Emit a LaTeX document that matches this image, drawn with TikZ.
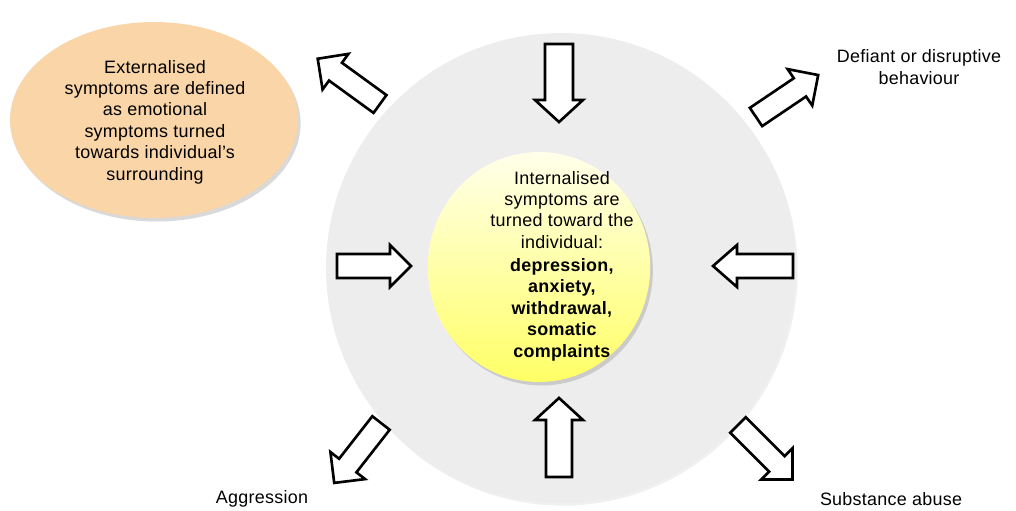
\documentclass[tikz,border=0pt]{standalone}
\usepackage{fontspec}
\setmainfont[LetterSpace=1.5]{Liberation Sans}
\usetikzlibrary{shapes.geometric,shadows}
\definecolor{ringgray}{HTML}{EDEDED}
\definecolor{peach}{HTML}{F9D5A8}
\newcommand\blkarr[6]{% tail point, angle, length, shaft half, head half, head length
  \draw[blockarrow, shift={#1}, rotate=#2]
    (0,-#4) -- ({#3-#6},-#4) -- ({#3-#6},-#5) -- (#3,0) -- ({#3-#6},#5)
    -- ({#3-#6},#4) -- (0,#4) -- cycle;}
\begin{document}
\begin{tikzpicture}[x=0.02cm,y=-0.02cm,
  txt/.style={font=\fontsize{10.2}{12.2}\selectfont, align=center, inner sep=0pt},
  blockarrow/.style={draw=black, line width=1.5pt, fill=white, line join=miter},
  softshadow/.style={drop shadow={shadow xshift=1.5pt, shadow yshift=-2pt, opacity=0.25, fill=black!60}},
]
\useasboundingbox (0,0) rectangle (1016,510);

% outer ring
\node[circle, fill=ringgray, minimum size=9.4cm, inner sep=0pt,
      drop shadow={shadow xshift=1pt, shadow yshift=-1.5pt, opacity=0.12}] (ring) at (561,268) {};

% inner yellow ellipse
\node[ellipse, top color=yellow!8, bottom color=yellow!60, minimum width=4.45cm, minimum height=4.6cm,
      inner sep=0pt, softshadow] (inner) at (539,267) {};
\node[txt] (innertext) at (562,266) {Internalised\\ symptoms are\\ turned toward the\\ individual:\\[1pt]
  \textbf{depression,}\\ \textbf{anxiety,}\\ \textbf{withdrawal,}\\ \textbf{somatic}\\ \textbf{complaints}};

% orange ellipse
\node[ellipse, fill=peach, minimum width=5.76cm, minimum height=3.92cm, inner sep=0pt, softshadow]
  (ext) at (154,120) {};
\node[txt] (exttext) at (155,122) {Externalised\\ symptoms are defined\\ as emotional\\ symptoms turned\\ towards individual’s\\ surrounding};

% outer labels
\node[txt] (defiant) at (919,67) {Defiant or disruptive\\ behaviour};
\node[txt] (aggr) at (262,499) {Aggression};
\node[txt] (subst) at (891,499) {Substance abuse};

% block arrows
\blkarr{(559,44)}{-90}{78}{14}{24}{22}
\blkarr{(559,477)}{90}{79}{13}{24}{22}
\blkarr{(337,266)}{0}{74}{12}{21}{21}
\blkarr{(793,266)}{180}{80}{12}{21}{24}
\blkarr{(380,104)}{144}{77}{11}{22}{22}
\blkarr{(756,117)}{34}{75}{11}{22}{22}
\blkarr{(381,423)}{232}{76}{11}{22}{22}
\blkarr{(738,425)}{-45}{77}{11}{22}{22}
\end{tikzpicture}
\end{document}
